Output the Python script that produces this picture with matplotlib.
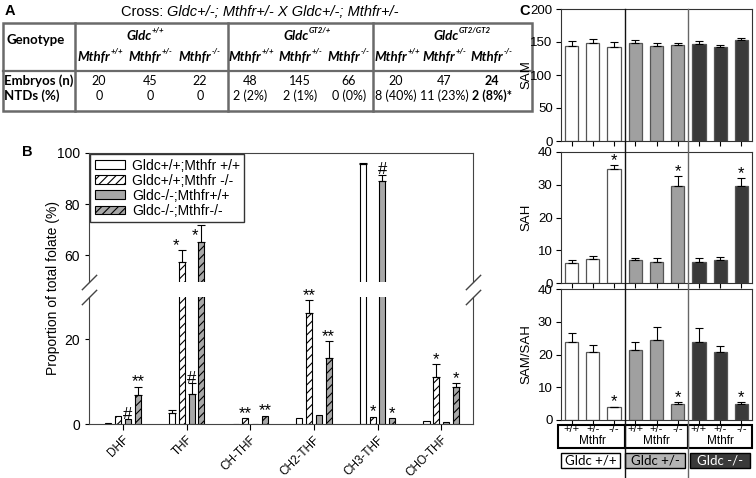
import matplotlib
matplotlib.use('Agg')
import matplotlib.pyplot as plt
import matplotlib.transforms as mtransforms
from matplotlib.lines import Line2D
from matplotlib.patches import Rectangle
import numpy as np

# ---- panel A data
gldc_heads = ['+/+', 'GT2/+', 'GT2/GT2']
mthfr_genos = ['+/+', '+/-', '-/-'] * 3
embryos = ['20', '45', '22', '48', '145', '66', '20', '47', '24']
ntds = ['0', '0', '0', '2 (2%)', '2 (1%)', '0 (0%)', '8 (40%)', '11 (23%)', '2 (8%)*']

# ---- panel B data (% of total folate)
folates = ['DHF', 'THF', 'CH-THF', 'CH2-THF', 'CH3-THF', 'CHO-THF']
b_names = ['Gldc+/+;Mthfr +/+', 'Gldc+/+;Mthfr -/-', 'Gldc-/-;Mthfr+/+', 'Gldc-/-;Mthfr-/-']
wt_wt = [0.3, 2.6, 0.1, 1.5, 95.8, 0.6]
wt_wt_err = [0, 0.6, 0, 0, 0.3, 0]
wt_ko = [2.0, 57.5, 1.4, 26.2, 1.7, 11.1]
wt_ko_err = [0, 4.5, 0, 3.0, 0, 3.0]
ko_wt = [1.2, 7.1, 0.1, 2.1, 88.9, 0.5]
ko_wt_err = [0, 2.5, 0, 0, 2.6, 0]
ko_ko = [6.9, 65.2, 2.0, 15.7, 1.3, 8.8]
ko_ko_err = [1.9, 6.7, 0, 3.8, 0, 0.8]
wt_wt_sig = ['', '', '', '', '', '']
wt_ko_sig = ['', '*', '**', '**', '*', '*']
ko_wt_sig = ['#', '#', '', '', '#', '']
ko_ko_sig = ['**', '*', '**', '**', '*', '*']

# ---- panel C data
mthfr_ticks = ['+/+', '+/-', '-/-']
gldc_names = ['Gldc +/+', 'Gldc +/-', 'Gldc -/-']
sam = [144.5, 149, 143, 148.5, 143.5, 146, 147.5, 142.5, 152.5]
sam_err = [7, 5, 6.5, 4.5, 5, 3, 4, 3, 3]
sah = [6.1, 7.3, 34.7, 6.9, 6.4, 29.7, 6.4, 7.0, 29.6]
sah_err = [0.8, 0.8, 1.3, 0.8, 1.2, 2.9, 1.2, 0.9, 2.5]
ratio = [23.7, 20.7, 3.9, 21.4, 24.4, 4.8, 23.7, 20.7, 4.8]
ratio_err = [2.8, 2.2, 0.2, 2.3, 3.9, 0.6, 4.4, 2.0, 0.6]
c_sig = ['', '', '*', '', '', '*', '', '', '*']

plt.rcParams['font.family'] = 'Liberation Sans'
plt.rcParams['hatch.linewidth'] = 0.8

W, H = 756, 478
fig = plt.figure(figsize=(W / 100, H / 100), dpi=100)


def fax(l, t, r, b):
    return fig.add_axes([l / W, 1 - b / H, (r - l) / W, (b - t) / H])


# ================= A: table
tf = 'Lato'
axA = fax(0, 0, 540, 115)
axA.set_xlim(0, 540)
axA.set_ylim(115, 0)
axA.axis('off')
axA.text(5, 11, 'A', weight='bold', size=10.5, va='center')
t1 = axA.text(121, 12, 'Cross: ', size=10.5, va='center')
axA.annotate('Gldc+/-; Mthfr+/- X Gldc+/-; Mthfr+/-', xy=(1, 0), xycoords=t1,
             va='bottom', style='italic', size=10.5)

lc = '#6a6a6a'
axA.add_patch(Rectangle((3, 23), 529, 88, fill=False, ec=lc, lw=1.8))
for xv in [75, 228, 373]:
    axA.plot([xv, xv], [23, 111], color=lc, lw=1.8)
axA.plot([3, 532], [71, 71], color=lc, lw=1.6)


def geno(x, y, base, sup, size, shift):
    t = axA.text(x - shift, y, base, family=tf, style='italic', weight='bold', size=size,
                 ha='center', va='center')
    axA.annotate(sup, xy=(1, 0.95), xycoords=t, xytext=(0.3, 0), textcoords='offset points',
                 family=tf, style='italic', weight='bold', size=size * 0.6, va='center')


axA.text(36, 40, 'Genotype', family=tf, weight='bold', size=9.5, ha='center', va='center')
col_x = [99, 150, 200, 250, 300, 349, 396, 444, 492]
head_x = [143, 302, 455]
for hx, g, sh in zip(head_x, gldc_heads, [4, 6, 9]):
    geno(hx, 36, 'Gldc', g, 9.5, sh)
for cx, m in zip(col_x, mthfr_genos):
    geno(cx, 57, 'Mthfr', m, 9.5, 5)
axA.text(4, 81, 'Embryos (n)', family=tf, weight='bold', size=9.5, va='center')
axA.text(4, 96, 'NTDs (%)', family=tf, weight='bold', size=9.5, va='center')
for i, (cx, e, n) in enumerate(zip(col_x, embryos, ntds)):
    w = 'bold' if i == 8 else 'normal'
    axA.text(cx, 81, e, family=tf, size=9, weight=w, ha='center', va='center')
    axA.text(cx, 96, n, family=tf, size=9, weight=w, ha='center', va='center')

# ================= B: folates, broken axis
axU = fax(89, 153, 473, 282)
axL = fax(89, 297, 473, 424)
x = np.arange(len(folates))
offs = np.array([-1.5, -0.5, 0.5, 1.5]) * 0.154
bw = 0.095
grey = '#a8a8a8'
series = [(wt_wt, wt_wt_err, wt_wt_sig, 'white', None),
          (wt_ko, wt_ko_err, wt_ko_sig, 'white', '////'),
          (ko_wt, ko_wt_err, ko_wt_sig, grey, None),
          (ko_ko, ko_ko_err, ko_ko_sig, grey, '////')]
# star nudges (points) where the marks would hit the legend
nudge = {(1, 1): (-4.5, 0), (3, 1): (-4.5, -11.5)}
handles = []
for k, (vals, errs, sigs, col, hat) in enumerate(series):
    vals = np.array(vals)
    errs = np.array(errs)
    for ax in (axU, axL):
        b = ax.bar(x + offs[k], vals, bw, color=col, edgecolor='black', hatch=hat, lw=0.8)
        m = errs > 0
        ax.errorbar((x + offs[k])[m], vals[m], yerr=[np.zeros(m.sum()), errs[m]], fmt='none',
                    ecolor='black', elinewidth=0.8, capsize=3, capthick=0.8)
    handles.append(b)
    for j, (xi, v, e, s) in enumerate(zip(x + offs[k], vals, errs, sigs)):
        if s:
            ax = axU if v + e > 49.5 else axL
            dx, dy = nudge.get((k, j), (0, 0))
            ax.annotate(s, (xi, v + e), xytext=(dx, dy - 2), textcoords='offset points',
                        ha='center', va='bottom', size=12, zorder=6)

axU.set_ylim(49.5, 100)
axL.set_ylim(0, 30)
for ax in (axU, axL):
    ax.set_xlim(-0.535, 5.5)
    for sp in ax.spines.values():
        sp.set_color('#444444')
    ax.tick_params(axis='y', labelsize=10, length=3, direction='out')
axU.set_yticks([60, 80, 100])
axL.set_yticks([0, 20])
axU.spines['bottom'].set_visible(False)
axL.spines['top'].set_visible(False)
axU.set_xticks([])
axL.set_xticks(x)
axL.set_xticklabels(folates, rotation=45, ha='right', rotation_mode='anchor', size=8.5)
axL.tick_params(axis='x', length=4, pad=3)

d = dict(marker=[(-1, -1), (1, 1)], markersize=11, linestyle='none', color='#444444',
         mec='#444444', mew=1, clip_on=False)
axU.plot([0, 1], [0, 0], transform=axU.transAxes, **d)
axL.plot([0, 1], [1, 1], transform=axL.transAxes, **d)

leg = axU.legend(handles, b_names, loc='upper left', borderaxespad=0.1, fontsize=10,
                 handlelength=2.2, handleheight=0.6, labelspacing=0.08, fancybox=False,
                 framealpha=1, borderpad=0.3, handletextpad=0.5)
leg.get_frame().set_edgecolor('#333333')
leg.get_frame().set_linewidth(1)
fig.text(53 / W, 1 - 288 / H, 'Proportion of total folate (%)', rotation=90,
         ha='center', va='center', size=10)
fig.text(22 / W, 1 - 152 / H, 'B', weight='bold', size=10.5, va='center')

# ================= C: SAM / SAH
c_cols = ['white'] * 3 + ['#a0a0a0'] * 3 + ['#3a3a3a'] * 3
c_panels = [('SAM', sam, sam_err, (0, 200), [0, 50, 100, 150, 200], fax(561, 9, 752, 141)),
            ('SAH', sah, sah_err, (0, 40), [0, 10, 20, 30, 40], fax(561, 152, 752, 283)),
            ('SAM/SAH', ratio, ratio_err, (0, 40), [0, 10, 20, 30, 40], fax(561, 289, 752, 420))]
xc = np.arange(9)
for name, vals, errs, yl, yt, ax in c_panels:
    ax.bar(xc, vals, 0.62, color=c_cols, edgecolor='#555555', lw=0.9)
    ax.errorbar(xc, vals, yerr=[np.zeros(9), errs], fmt='none', ecolor='black',
                elinewidth=0.8, capsize=3, capthick=0.8)
    if name != 'SAM':
        for xi, v, e, s in zip(xc, vals, errs, c_sig):
            if s:
                ax.annotate(s, (xi, v + e), xytext=(0, -2), textcoords='offset points',
                            ha='center', va='bottom', size=12)
    ax.set_xlim(-0.5, 8.5)
    ax.set_ylim(*yl)
    ax.set_yticks(yt)
    ax.set_xticks(xc)
    ax.set_xticklabels([])
    ax.tick_params(labelsize=9.5, length=3.5, pad=2.5)
    ax.set_ylabel(name, size=9.5)
    ax.yaxis.set_label_coords(-0.15, 0.5)
    for sp in ax.spines.values():
        sp.set_color('#333333')
fig.text(519 / W, 1 - 11 / H, 'C', weight='bold', size=10.5, va='center')

axc = c_panels[0][5]
blend = mtransforms.blended_transform_factory(axc.transData, fig.transFigure)
for xs, col in [(2.5, '#111111'), (5.5, '#666666')]:
    fig.add_artist(Line2D([xs, xs], [0, 1 - 9 / H], transform=blend, color=col, lw=1))

y_top, y_bot = 1 - 425 / H, 1 - 448 / H
for i, (x0, x1) in enumerate([(-0.64, 2.5), (2.5, 5.5), (5.5, 8.5)]):
    fig.add_artist(Rectangle((x0, y_bot), x1 - x0, y_top - y_bot, transform=blend,
                             fill=False, ec='black', lw=1.5))
    for j, lab in enumerate(mthfr_ticks):
        fig.text(3 * i + j, 1 - 429 / H, lab, transform=blend, ha='center', va='center', size=8)
    fig.text(3 * i + 1, 1 - 441 / H, 'Mthfr', transform=blend, ha='center', va='center', size=8.5)

g_fill = ['white', '#b4b4b4', '#3a3a3a']
g_txt = ['black', 'black', 'white']
g_y0, g_y1 = 1 - 468 / H, 1 - 453 / H
for (x0, x1), name, fc, tc in zip([(-0.5, 2.28), (2.52, 5.35), (5.58, 8.42)], gldc_names, g_fill, g_txt):
    fig.add_artist(Rectangle((x0, g_y0), x1 - x0, g_y1 - g_y0, transform=blend,
                             fc=fc, ec='black', lw=1))
    fig.text((x0 + x1) / 2, (g_y0 + g_y1) / 2, name, transform=blend, ha='center',
             va='center', size=9.5, family=tf, color=tc)

fig.savefig('out.png', dpi=100)
